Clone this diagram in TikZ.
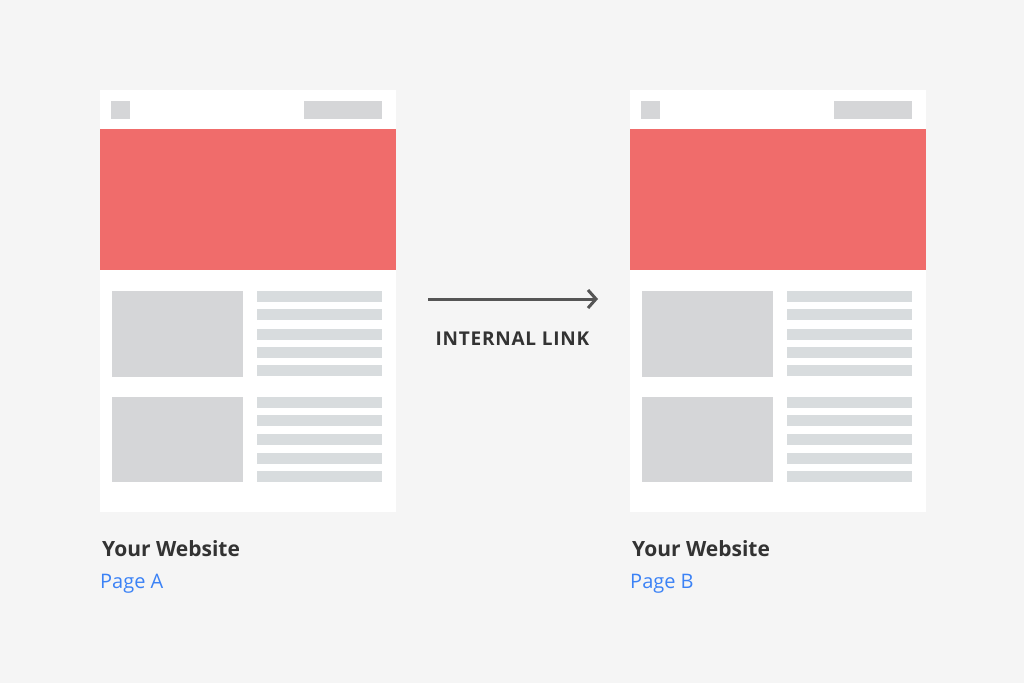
\documentclass[tikz,border=0pt]{standalone}
\usepackage{fontspec}
\setmainfont{Open Sans}
\newfontfamily\trackedfont[LetterSpace=4]{Open Sans}
\usetikzlibrary{arrows.meta,positioning}
\definecolor{bgcol}{HTML}{F5F5F5}
\definecolor{herored}{HTML}{F06C6B}
\definecolor{blockgray}{HTML}{D5D6D8}
\definecolor{linegray}{HTML}{D8DCDE}
\definecolor{inkdark}{HTML}{333333}
\definecolor{arrowgray}{HTML}{555555}
\definecolor{linkblue}{HTML}{3B82F6}
\tikzset{
  sheet/.style={fill=white},
  hero/.style={fill=herored},
  block/.style={fill=blockgray},
  textline/.style={fill=linegray},
  sitename/.style={font=\fontsize{21}{25}\selectfont\bfseries, text=inkdark, anchor=base west, inner sep=0pt},
  pagename/.style={font=\fontsize{20}{24}\selectfont, text=linkblue, anchor=base west, inner sep=0pt},
  linklabel/.style={font=\trackedfont\fontsize{19}{23}\selectfont\bfseries, text=inkdark, anchor=base, inner sep=0pt}
}

\begin{document}
\begin{tikzpicture}[x=1pt, y=-1pt, >=Stealth]
  % Background
  \fill[bgcol] (0,0) rectangle (1024,683);
  \useasboundingbox (0,0) rectangle (1024,683);

  % Pages
  \foreach \ox/\pg in {0/A, 530/B} {
    \begin{scope}[xshift=\ox pt]
      \fill[sheet] (100,90) rectangle (396,512);
      % header
      \fill[block] (111,101) rectangle (130,119);
      \fill[block] (304,101) rectangle (382,119);
      % hero banner
      \fill[hero] (100,129) rectangle (396,270);
      % image blocks
      \fill[block] (112,291) rectangle (243,377);
      \fill[block] (112,397) rectangle (243,482);
      % text lines
      \foreach \ly in {291,309,329,347,365,397,415,434,453,471}
        \fill[textline] (257,\ly) rectangle (382,\ly+11);
      % labels
      \node[sitename] (site\pg) at (102,556) {Your Website};
      \node[pagename] (page\pg) at (100,588) {Page \pg};
    \end{scope}
  }

  % Link
  \coordinate (linkstart) at (428,299);
  \coordinate (linkend) at (598,299);
  \draw[arrowgray, line width=3pt, -{Straight Barb[length=8pt, width=18pt, line width=3pt]}] (linkstart) -- (linkend);
  \node[linklabel] (linktext) at (512.5,345.5) {INTERNAL LINK};
\end{tikzpicture}
\end{document}
